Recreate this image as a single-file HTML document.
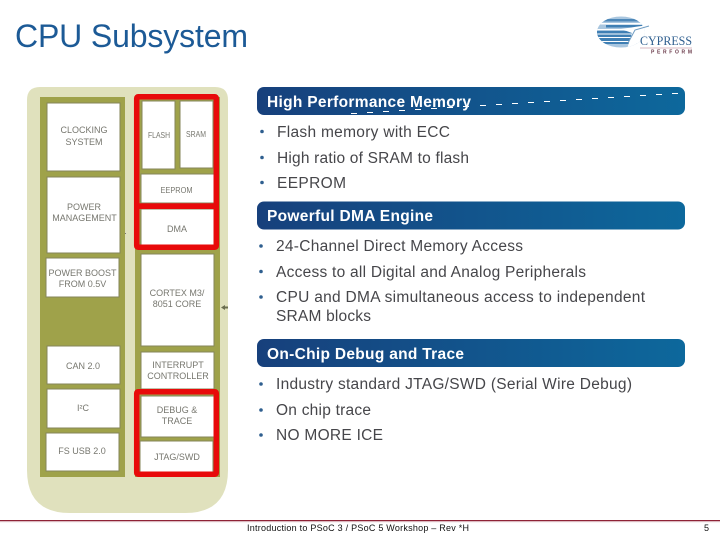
<!DOCTYPE html>
<html><head><meta charset="utf-8"><style>
html,body{margin:0;padding:0;background:#fff}
svg{display:block;font-family:"Liberation Sans",sans-serif}
.b{fill:#fff;stroke:#85865a;stroke-width:1}
.l{fill:#77776f;font-size:9px;text-anchor:middle}
.t{fill:#46464a;font-size:15.500px}
.h{fill:#fff;font-size:15.500px;font-weight:bold}
.d{fill:#2f5f8f}
</style></head><body>
<svg width="720" height="540" viewBox="0 0 720 540" xmlns="http://www.w3.org/2000/svg">
<defs>
<linearGradient id="g" x1="0" x2="1" y1="0" y2="0"><stop offset="0" stop-color="#17407c"/><stop offset="1" stop-color="#0d689c"/></linearGradient>
<clipPath id="lc"><ellipse cx="621" cy="32" rx="24" ry="15.500"/></clipPath>
</defs>
<rect width="720" height="540" fill="#fff"/>
<text x="15" y="47" font-size="32" fill="#1c5a96" textLength="233" lengthAdjust="spacing">CPU Subsystem</text>

<!-- logo -->
<g clip-path="url(#lc)">
<rect x="597" y="16" width="50" height="32" fill="#a9c6df"/>
<rect x="597" y="19" width="50" height="2.500" fill="#4d87b8"/>
<rect x="597" y="23" width="50" height="1.500" fill="#fff"/>
<rect x="606" y="25" width="36" height="2.500" fill="#3f7fb4"/>
<rect x="597" y="29" width="50" height="1" fill="#fff"/>
<rect x="597" y="31" width="40" height="13" fill="#3f7fb4"/>
<rect x="597" y="33.500" width="40" height="1" fill="#fff"/>
<rect x="597" y="37" width="40" height="1" fill="#fff"/>
<rect x="597" y="41" width="40" height="1" fill="#fff"/>
<path d="M621 29 L648 25 V49 H627 L632 33 Z" fill="#fff"/>
</g>
<path d="M628 43 L635 30 L649 26" fill="none" stroke="#6f9cc2" stroke-width="1"/>
<text x="640" y="45" font-family="Liberation Serif" font-size="13" fill="#2f5f8f" textLength="52" lengthAdjust="spacingAndGlyphs">CYPRESS</text>
<rect x="640" y="47.500" width="52" height="1" fill="#d9b8c0"/>
<text x="651" y="53.500" font-size="5" font-weight="bold" fill="#6a3a4a" textLength="41" lengthAdjust="spacing">PERFORM</text>

<!-- panel -->
<path d="M40 87 H215 Q228 87 228 100 V470 Q228 513 185 513 H70 Q27 513 27 470 V100 Q27 87 40 87 Z" fill="#e0e1bd"/>
<rect x="40" y="97" width="85" height="380" fill="#9fa24a"/>
<rect x="135" y="97" width="85" height="380" fill="#9fa24a"/>

<!-- left boxes -->
<rect class="b" x="47" y="103" width="73" height="68"/>
<rect class="b" x="47" y="177" width="73" height="76"/>
<rect class="b" x="46" y="258" width="73" height="39"/>
<rect class="b" x="47" y="346" width="73" height="38"/>
<rect class="b" x="47" y="389" width="73" height="39"/>
<rect class="b" x="46" y="433" width="73" height="38"/>

<!-- right boxes -->
<rect class="b" x="142" y="101" width="33" height="68"/>
<rect class="b" x="180" y="101" width="33" height="67"/>
<rect class="b" x="141" y="174" width="73" height="29"/>
<rect class="b" x="141" y="209" width="73" height="36"/>
<rect class="b" x="141" y="254" width="73" height="92"/>
<rect class="b" x="141" y="352" width="73" height="37"/>
<rect class="b" x="141" y="396" width="73" height="41"/>
<rect class="b" x="140" y="441" width="73" height="31"/>

<!-- red frames -->
<rect x="136.700" y="96.700" width="79.600" height="150.600" rx="1.500" fill="none" stroke="#e80a0a" stroke-width="5.500"/>
<rect x="136" y="203.300" width="81" height="5.700" fill="#e80a0a"/>
<rect x="136.700" y="391.700" width="79.600" height="82.600" rx="1.500" fill="none" stroke="#e80a0a" stroke-width="5.500"/>

<!-- box labels -->
<text class="l" x="84" y="133">CLOCKING</text>
<text class="l" x="84" y="145">SYSTEM</text>
<text class="l" x="84" y="210">POWER</text>
<text class="l" x="84.500" y="221">MANAGEMENT</text>
<text class="l" x="82.500" y="276">POWER BOOST</text>
<text class="l" x="82.500" y="287">FROM 0.5V</text>
<text class="l" x="83" y="369">CAN 2.0</text>
<text class="l" x="83" y="411">I²C</text>
<text class="l" x="82" y="454">FS USB 2.0</text>
<text class="l" x="159" y="138" style="font-size:8px" textLength="22" lengthAdjust="spacingAndGlyphs">FLASH</text>
<text class="l" x="196" y="137" style="font-size:8px" textLength="20" lengthAdjust="spacingAndGlyphs">SRAM</text>
<text class="l" x="176.500" y="193" style="font-size:8px" textLength="32" lengthAdjust="spacingAndGlyphs">EEPROM</text>
<text class="l" x="177" y="232">DMA</text>
<text class="l" x="177" y="296">CORTEX M3/</text>
<text class="l" x="177" y="307">8051 CORE</text>
<text class="l" x="178" y="368">INTERRUPT</text>
<text class="l" x="178" y="379">CONTROLLER</text>
<text class="l" x="177" y="413">DEBUG &amp;</text>
<text class="l" x="177" y="424">TRACE</text>
<text class="l" x="177" y="460">JTAG/SWD</text>
<path d="M221 307.500 L225 305 V306.500 H228 V308.500 H225 V310 Z" fill="#6b6e50"/>
<rect x="125" y="233" width="1" height="1" fill="#777"/>

<!-- banners -->
<rect x="257" y="87" width="428" height="28" rx="7" fill="url(#g)"/>
<rect x="257" y="201.500" width="428" height="28" rx="7" fill="url(#g)"/>
<rect x="257" y="339" width="428" height="28" rx="7" fill="url(#g)"/>
<text class="h" x="267" y="107" textLength="204" lengthAdjust="spacing">High Performance Memory</text>
<text class="h" x="267" y="221" textLength="166" lengthAdjust="spacing">Powerful DMA Engine</text>
<text class="h" x="267" y="359" textLength="197" lengthAdjust="spacing">On-Chip Debug and Trace</text>
<g stroke="#fff" stroke-width="1">
<line x1="351" x2="357" y1="113.500" y2="113.500"/><line x1="367" x2="373" y1="112.500" y2="112.500"/>
<line x1="383" x2="389" y1="111.500" y2="111.500"/><line x1="399" x2="405" y1="110.500" y2="110.500"/>
<line x1="415" x2="421" y1="109.500" y2="109.500"/><line x1="431" x2="437" y1="108.500" y2="108.500"/>
<line x1="447" x2="453" y1="107.500" y2="107.500"/><line x1="463" x2="469" y1="106.500" y2="106.500"/>
<line x1="480" x2="486" y1="105.500" y2="105.500"/><line x1="496" x2="502" y1="104.500" y2="104.500"/>
<line x1="512" x2="518" y1="103.500" y2="103.500"/><line x1="528" x2="534" y1="102.500" y2="102.500"/>
<line x1="544" x2="550" y1="101.500" y2="101.500"/><line x1="560" x2="566" y1="100.500" y2="100.500"/>
<line x1="576" x2="582" y1="99.500" y2="99.500"/><line x1="592" x2="598" y1="98.500" y2="98.500"/>
<line x1="608" x2="614" y1="97.500" y2="97.500"/><line x1="624" x2="630" y1="96.500" y2="96.500"/>
<line x1="640" x2="646" y1="95.500" y2="95.500"/><line x1="656" x2="662" y1="94.500" y2="94.500"/>
<line x1="672" x2="678" y1="93.500" y2="93.500"/>
</g>

<!-- bullets -->
<circle class="d" cx="262" cy="131.500" r="1.800"/>
<circle class="d" cx="262" cy="157.500" r="1.800"/>
<circle class="d" cx="262" cy="182.500" r="1.800"/>
<circle class="d" cx="261" cy="246" r="1.800"/>
<circle class="d" cx="261" cy="271.500" r="1.800"/>
<circle class="d" cx="261" cy="297" r="1.800"/>
<circle class="d" cx="261" cy="384" r="1.800"/>
<circle class="d" cx="261" cy="410" r="1.800"/>
<circle class="d" cx="261" cy="435" r="1.800"/>

<text class="t" x="277" y="137" textLength="173" lengthAdjust="spacing">Flash memory with ECC</text>
<text class="t" x="277" y="163" textLength="192" lengthAdjust="spacing">High ratio of SRAM to flash</text>
<text class="t" x="277" y="188" textLength="69" lengthAdjust="spacing">EEPROM</text>
<text class="t" x="276" y="251" textLength="247" lengthAdjust="spacing">24-Channel Direct Memory Access</text>
<text class="t" x="276" y="277" textLength="310" lengthAdjust="spacing">Access to all Digital and Analog Peripherals</text>
<text class="t" x="276" y="302" textLength="369" lengthAdjust="spacing">CPU and DMA simultaneous access to independent</text>
<text class="t" x="276" y="321" textLength="95" lengthAdjust="spacing">SRAM blocks</text>
<text class="t" x="276" y="389" textLength="356" lengthAdjust="spacing">Industry standard JTAG/SWD (Serial Wire Debug)</text>
<text class="t" x="276" y="415" textLength="95" lengthAdjust="spacing">On chip trace</text>
<text class="t" x="276" y="440" textLength="107" lengthAdjust="spacing">NO MORE ICE</text>

<!-- footer -->
<rect x="0" y="520" width="720" height="1.300" fill="#8e2236"/>
<rect x="0" y="521.300" width="720" height="1" fill="#e9d3d8"/>
<text x="247" y="531" font-size="9" fill="#111" textLength="222" lengthAdjust="spacing">Introduction to PSoC 3 / PSoC 5 Workshop – Rev *H</text>
<text x="704" y="531" font-size="9" fill="#111">5</text>
</svg>
</body></html>
